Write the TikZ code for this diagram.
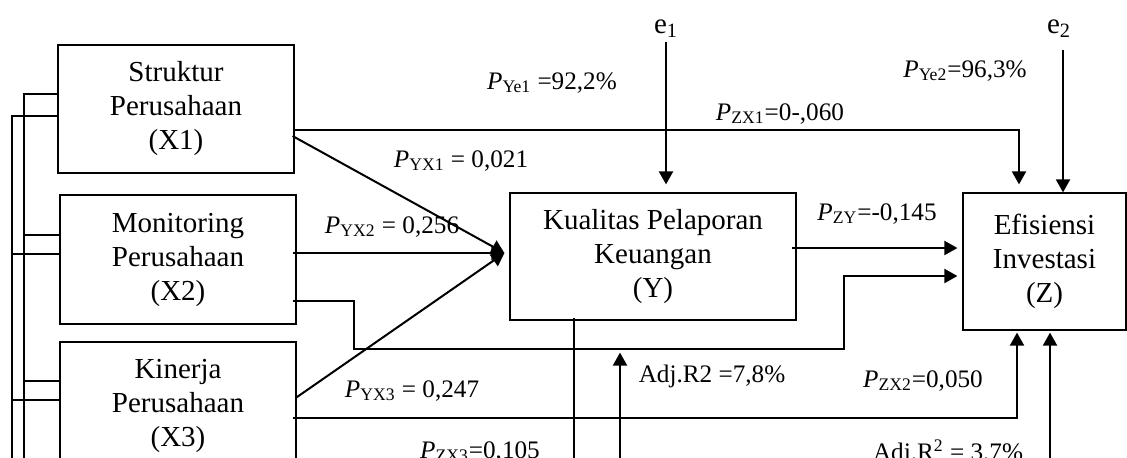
\documentclass[tikz,border=0pt]{standalone}
\usepackage{fontspec}
\setmainfont{Liberation Serif}
\usetikzlibrary{arrows.meta,calc}

\tikzset{
  var/.style={shape=rectangle,draw=black,line width=0.6pt,align=center,inner sep=0pt,
    font=\fontsize{14.5}{17}\selectfont},
  coef/.style={anchor=base,inner sep=0pt,font=\fontsize{12.6}{14}\selectfont},
  err/.style={anchor=base,inner sep=0pt,font=\fontsize{14.5}{17}\selectfont},
  link/.style={line width=1pt},
  arr/.style={link,-{Triangle[length=6.5pt,width=7pt]}}
}

\begin{document}
\begin{tikzpicture}[x=0.5pt,y=-0.5pt]
	\useasboundingbox (0,0) rectangle (1127,457);
	\clip (0,0) rectangle (1127,457);
	
	\node[var,minimum width=118pt,minimum height=64pt] (X1) at (176, 109)     {Struktur\\Perusahaan\\(X1)};
	\node[var,minimum width=118pt,minimum height=64.5pt] (X2) at (178, 259.5) {Monitoring\\Perusahaan\\(X2)};
	\node[var,minimum width=118pt,minimum height=64pt] (X3) at (178, 406)     {Kinerja\\Perusahaan\\(X3)};
	\node[var,minimum width=143pt,minimum height=63.5pt] (Y) at (653, 256.5)  {Kualitas Pelaporan\\Keuangan\\(Y)};
	\node[var,minimum width=81.5pt,minimum height=68.5pt] (Z) at (1044.5, 261.5) {Efisiensi\\Investasi\\(Z)};
	
	\node[err] (e1) at (666, 33)  {e\textsubscript{1}};
	\node[err] (e2) at (1059, 33) {e\textsubscript{2}};
	
	\coordinate (c12) at (12, 480);
	\coordinate (c24) at (24, 480);
	\coordinate (eY) at (620, 480);
	\coordinate (Ydown) at (574, 480);
	\coordinate (eZ) at (1050, 480);
	\coordinate (tipY) at ($(Y.west)+(-5,-3.5)$);
	
	% paths to Y
	\draw[arr] ($(X1.east)+(-2,27)$) -- (tipY);
	\draw[arr] ($(X2.east)+(-4,-6.5)$) -- (tipY);
	\draw[arr] ($(X3.east)+(-1,-8)$) -- (tipY);
	\draw[arr] ($(e1.south)+(0,4)$) -- ($(e1.south |- Y.north)+(0,-8)$);
	
	% paths to Z
	\draw[arr] ($(X1.east)+(-2,21)$) -| ($(Z.north)+(-25.5,-8)$);
	\draw[arr] ($(X2.east)+(-4,41.5)$) -| ++(61,48) -| ($(Z.west)+(-118,14.5)$) -- ($(Z.west)+(-5,14.5)$);
	\draw[arr] ($(X3.east)+(-4,12)$) -| ($(Z.south)+(-27.5,2)$);
	\draw[arr] ($(Y.east)+(-5,-8.5)$) -- ($(Z.west)+(-5,-13.5)$);
	\draw[arr] ($(e2.south)+(4,12)$) coordinate (e2top) -- (e2top |- Z.north);
	\draw[arr] (eZ) -- ($(eZ |- Z.south)+(0,2)$);
	
	% lines below Y
	\draw[link] (Ydown) -- ($(Ydown |- Y.south)+(0,-3)$);
	\draw[arr] (eY) -- ($(eY |- Y.south)+(0,32)$);
	
	% correlations
	\draw[link] ($(X1.west)+(0,-15)$) -| (c24);
	\draw[link] ($(X1.west)+(0,7)$) -| (c12);
	\draw[link] ($(X2.west)+(0,-24.5)$) -| (c24);
	\draw[link] ($(X2.west)+(0,-5.5)$) -| (c12);
	\draw[link] ($(X3.west)+(0,-25)$) -| (c24);
	\draw[link] ($(X3.west)+(0,-6)$) -| (c12);
	
	% coefficients
	\node[coef] (pye1) at (552, 89)  {\textit{P}\textsubscript{Ye1} =92,2\%};
	\node[coef] (pyx1) at (461, 167) {\textit{P}\textsubscript{YX1} = 0,021};
	\node[coef] (pyx2) at (392, 233) {\textit{P}\textsubscript{YX2} = 0,256};
	\node[coef] (pyx3) at (412, 397) {\textit{P}\textsubscript{YX3} = 0,247};
	\node[coef] (pzx1) at (780, 120) {\textit{P}\textsubscript{ZX1}=0-,060};
	\node[coef] (pye2) at (965, 77)  {\textit{P}\textsubscript{Ye2}=96,3\%};
	\node[coef] (pzy) at (877, 220)  {\textit{P}\textsubscript{ZY}=-0,145};
	\node[coef] (pzx2) at (923, 387) {\textit{P}\textsubscript{ZX2}=0,050};
	\node[coef] (pzx3) at (480, 458) {\textit{P}\textsubscript{ZX3}=0,105};
	\node[coef] (r2y) at (712, 382)  {Adj.R2 =7,8\%};
	\node[coef] (r2z) at (948, 460)  {Adj.R\textsuperscript{2} = 3,7\%};
	
\end{tikzpicture}
\end{document}
